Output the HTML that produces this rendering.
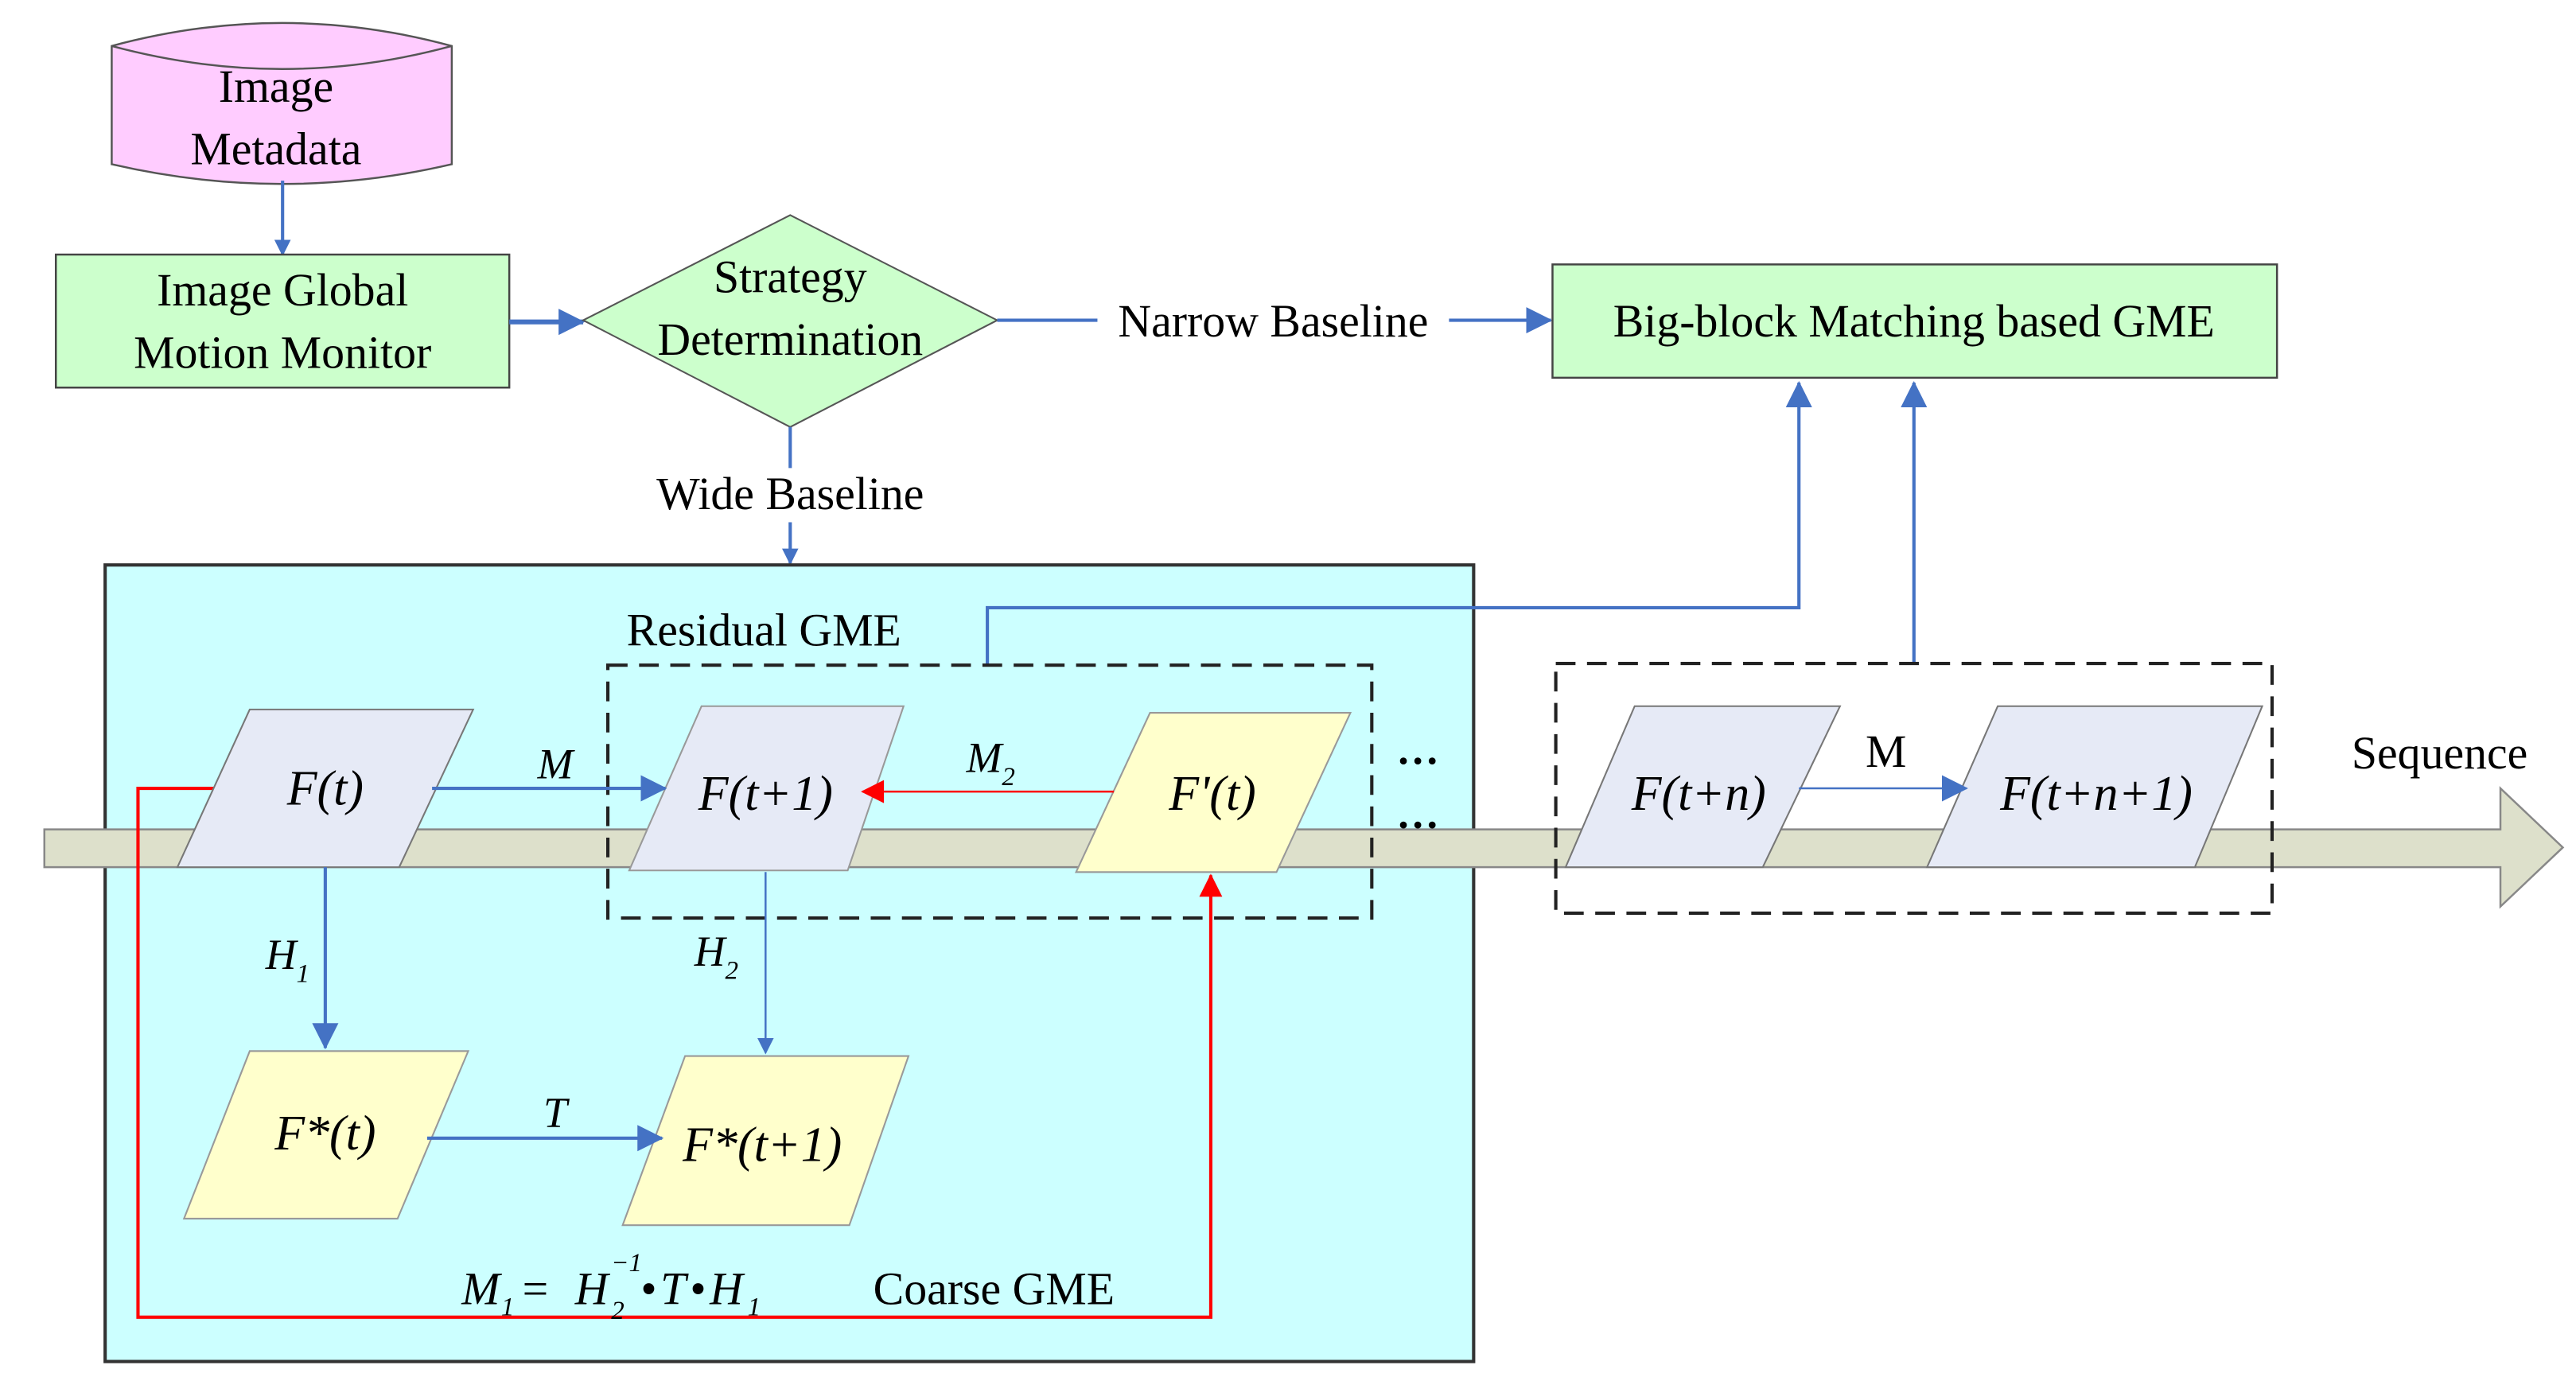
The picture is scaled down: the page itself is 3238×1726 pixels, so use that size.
<!DOCTYPE html>
<html><head><meta charset="utf-8"><style>
html,body{margin:0;padding:0;background:#fff;}
svg{display:block;}
text{font-family:"Liberation Serif",serif;fill:#000;}
</style></head><body>
<svg width="3238" height="1726" viewBox="0 0 1568 836" preserveAspectRatio="none" xmlns="http://www.w3.org/2000/svg">
<defs>
<marker id="ab" markerWidth="10" markerHeight="10" refX="9" refY="5" orient="auto" markerUnits="userSpaceOnUse" viewBox="0 0 10 10"><path d="M0,0 L10,5 L0,10 z" fill="#4472c4"/></marker>
<marker id="abL" markerWidth="16" markerHeight="16" refX="15" refY="8" orient="auto" markerUnits="userSpaceOnUse" viewBox="0 0 16 16"><path d="M0,0 L16,8 L0,16 z" fill="#4472c4"/></marker>
<marker id="ar" markerWidth="14" markerHeight="14" refX="13" refY="7" orient="auto" markerUnits="userSpaceOnUse" viewBox="0 0 14 14"><path d="M0,0 L14,7 L0,14 z" fill="#ff0000"/></marker>
</defs>
<rect width="1568" height="836" fill="#fff"/>
<path d="M68,28 Q172,0 275,28 L275,100 Q172,124 68,100 Z" fill="#ffccff" stroke="#555" stroke-width="1.2"/>
<path d="M68,28 Q172,56 275,28" fill="none" stroke="#555" stroke-width="1.2"/>
<text x="168" y="62" font-size="28" text-anchor="middle">Image</text>
<text x="168" y="100" font-size="28" text-anchor="middle">Metadata</text>
<line x1="172" y1="110" x2="172" y2="155" stroke="#4472c4" stroke-width="2" marker-end="url(#ab)"/>
<rect x="34" y="155" width="276" height="81" fill="#ccffcc" stroke="#444" stroke-width="1.2"/>
<text x="172" y="186" font-size="28" text-anchor="middle">Image Global</text>
<text x="172" y="224" font-size="28" text-anchor="middle">Motion Monitor</text>
<line x1="310" y1="196" x2="355" y2="196" stroke="#4472c4" stroke-width="3" marker-end="url(#abL)"/>
<polygon points="355,195 481,131 607,195 481,260" fill="#ccffcc" stroke="#555" stroke-width="1"/>
<text x="481" y="178" font-size="28" text-anchor="middle">Strategy</text>
<text x="481" y="216" font-size="28" text-anchor="middle">Determination</text>
<line x1="607" y1="195" x2="668" y2="195" stroke="#4472c4" stroke-width="2"/>
<text x="775" y="205" font-size="28" text-anchor="middle">Narrow Baseline</text>
<line x1="882" y1="195" x2="944" y2="195" stroke="#4472c4" stroke-width="2" marker-end="url(#abL)"/>
<rect x="945" y="161" width="441" height="69" fill="#ccffcc" stroke="#444" stroke-width="1.2"/>
<text x="1165" y="205" font-size="28" text-anchor="middle">Big-block Matching based GME</text>
<line x1="481" y1="260" x2="481" y2="285" stroke="#4472c4" stroke-width="2"/>
<text x="481" y="310" font-size="28" text-anchor="middle">Wide Baseline</text>
<line x1="481" y1="318" x2="481" y2="343" stroke="#4472c4" stroke-width="2" marker-end="url(#ab)"/>
<rect x="64" y="344" width="833" height="485" fill="#ccffff" stroke="#333" stroke-width="2"/>
<text x="465" y="393" font-size="28" text-anchor="middle">Residual GME</text>
<polyline points="601,405 601,370 1095,370 1095,233" fill="none" stroke="#4472c4" stroke-width="2" marker-end="url(#abL)"/>
<line x1="1165" y1="403" x2="1165" y2="233" stroke="#4472c4" stroke-width="2" marker-end="url(#abL)"/>
<path d="M27,505 L1522,505 L1522,480 L1560,516 L1522,552 L1522,528 L27,528 Z" fill="#dde0cb" stroke="#888" stroke-width="1.2"/>
<text x="1485" y="468" font-size="28" text-anchor="middle">Sequence</text>
<rect x="370" y="405" width="465" height="154" fill="none" stroke="#222" stroke-width="2" stroke-dasharray="12,7"/>
<rect x="947" y="404" width="436" height="152" fill="none" stroke="#222" stroke-width="2" stroke-dasharray="12,7"/>
<polyline points="133,480 84,480 84,802 737,802 737,533" fill="none" stroke="#ff0000" stroke-width="2" marker-end="url(#ar)"/>
<polygon points="152,432 288,432 243,528 108,528" fill="#e6eaf6" stroke="#777" stroke-width="1"/>
<polygon points="427,430 550,430 516,530 383,530" fill="#e6eaf6" stroke="#999" stroke-width="1"/>
<polygon points="700,434 822,434 777,531 655,531" fill="#ffffcc" stroke="#999" stroke-width="1"/>
<polygon points="152,640 285,640 242,742 112,742" fill="#ffffcc" stroke="#999" stroke-width="1"/>
<polygon points="417,643 553,643 517,746 379,746" fill="#ffffcc" stroke="#999" stroke-width="1"/>
<polygon points="995,430 1120,430 1073,528 953,528" fill="#e6eaf6" stroke="#777" stroke-width="1"/>
<polygon points="1216,430 1377,430 1336,528 1173,528" fill="#e6eaf6" stroke="#777" stroke-width="1"/>
<g font-style="italic" font-size="30">
<text x="198" y="490" text-anchor="middle">F(t)</text>
<text x="466" y="493" text-anchor="middle">F(t+1)</text>
<text x="738" y="493" text-anchor="middle">F'(t)</text>
<text x="198" y="700" text-anchor="middle">F*(t)</text>
<text x="464" y="707" text-anchor="middle">F*(t+1)</text>
<text x="1034" y="493" text-anchor="middle">F(t+n)</text>
<text x="1276" y="493" text-anchor="middle">F(t+n+1)</text>
</g>
<line x1="263" y1="480" x2="405" y2="480" stroke="#4472c4" stroke-width="2" marker-end="url(#abL)"/>
<text x="338" y="474" font-size="26" font-style="italic" text-anchor="middle">M</text>
<line x1="678" y1="482" x2="525" y2="482" stroke="#ff0000" stroke-width="1.2" marker-end="url(#ar)"/>
<text x="603" y="470" font-size="26" font-style="italic" text-anchor="middle">M<tspan font-size="16" dy="8">2</tspan></text>
<line x1="198" y1="528" x2="198" y2="638" stroke="#4472c4" stroke-width="2" marker-end="url(#abL)"/>
<text x="175" y="590" font-size="26" font-style="italic" text-anchor="middle">H<tspan font-size="16" dy="8">1</tspan></text>
<line x1="466" y1="531" x2="466" y2="641" stroke="#4472c4" stroke-width="1.2" marker-end="url(#ab)"/>
<text x="436" y="588" font-size="26" font-style="italic" text-anchor="middle">H<tspan font-size="16" dy="8">2</tspan></text>
<line x1="260" y1="693" x2="403" y2="693" stroke="#4472c4" stroke-width="2" marker-end="url(#abL)"/>
<text x="338" y="686" font-size="26" font-style="italic" text-anchor="middle">T</text>
<line x1="1095" y1="480" x2="1197" y2="480" stroke="#4472c4" stroke-width="1.2" marker-end="url(#abL)"/>
<text x="1148" y="467" font-size="28" text-anchor="middle">M</text>
<text x="863" y="465" font-size="26" font-weight="bold" text-anchor="middle">…</text>
<text x="863" y="504" font-size="26" font-weight="bold" text-anchor="middle">…</text>
<g font-size="28" font-style="italic">
<text x="281" y="794">M</text>
<text x="305" y="801" font-size="16">1</text>
<text x="318" y="794" font-style="normal">=</text>
<text x="350" y="794">H</text>
<text x="372" y="774" font-size="16">−1</text>
<text x="372" y="803" font-size="16">2</text>
<text x="390" y="794" font-style="normal">•</text>
<text x="402" y="794">T</text>
<text x="420" y="794" font-style="normal">•</text>
<text x="432" y="794">H</text>
<text x="455" y="801" font-size="16">1</text>
</g>
<text x="605" y="794" font-size="28" text-anchor="middle">Coarse GME</text>
</svg>
</body></html>
